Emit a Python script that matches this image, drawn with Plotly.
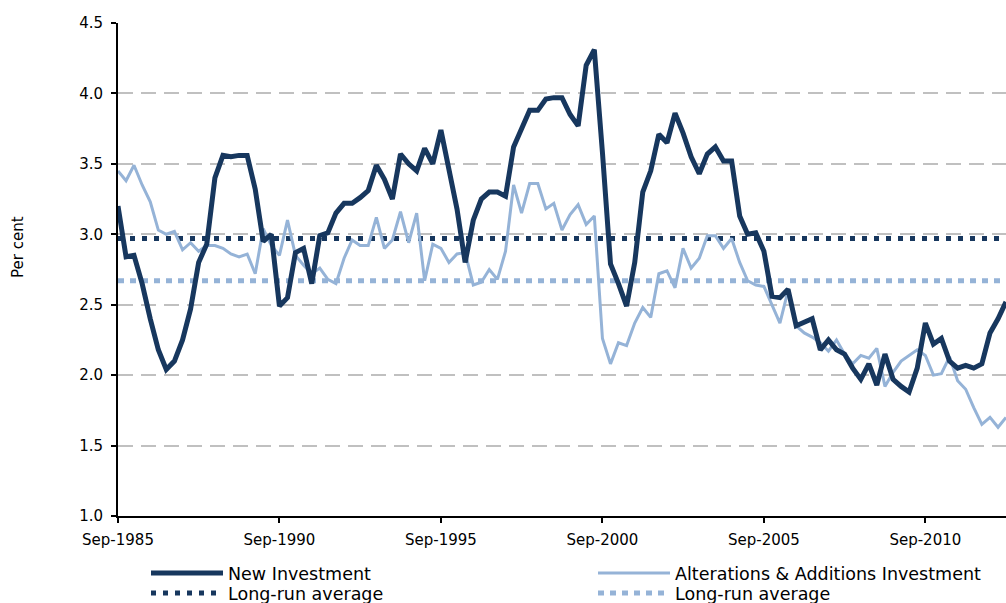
import pandas as pd
import plotly.graph_objects as go

# Quarterly, Sep-1985 .. Mar-2013
quarters = pd.date_range(start="1985-09-01", periods=111, freq="3MS")

new_investment = [
    3.20, 2.84, 2.85, 2.65, 2.40, 2.18, 2.04, 2.10, 2.25, 2.47,
    2.80, 2.93, 3.40, 3.56, 3.55, 3.56, 3.56, 3.32, 2.95, 3.00,
    2.49, 2.55, 2.87, 2.90, 2.65, 2.99, 3.01, 3.15, 3.22, 3.22,
    3.26, 3.31, 3.49, 3.39, 3.25, 3.57, 3.50, 3.45, 3.61, 3.50,
    3.74, 3.47, 3.18, 2.80, 3.10, 3.25, 3.30, 3.30, 3.27, 3.62,
    3.75, 3.88, 3.88, 3.96, 3.97, 3.97, 3.85, 3.77, 4.20, 4.31,
    3.58, 2.79, 2.65, 2.49, 2.80, 3.30, 3.45, 3.71, 3.65, 3.86,
    3.72, 3.55, 3.43, 3.57, 3.62, 3.52, 3.52, 3.13, 3.00, 3.01,
    2.88, 2.56, 2.55, 2.61, 2.35, 2.38, 2.40, 2.18, 2.25, 2.18,
    2.15, 2.05, 1.97, 2.08, 1.93, 2.15, 1.97, 1.92, 1.88, 2.05,
    2.37, 2.22, 2.26, 2.10, 2.05, 2.07, 2.05, 2.08, 2.30, 2.40,
    2.52,
]

alterations_additions = [
    3.45, 3.38, 3.49, 3.35, 3.23, 3.03, 3.00, 3.02, 2.89, 2.94,
    2.88, 2.92, 2.92, 2.90, 2.86, 2.84, 2.86, 2.72, 3.04, 2.92,
    2.85, 3.10, 2.85, 2.78, 2.72, 2.76, 2.68, 2.65, 2.83, 2.96,
    2.92, 2.92, 3.12, 2.90, 2.96, 3.16, 2.94, 3.15, 2.67, 2.93,
    2.90, 2.80, 2.86, 2.87, 2.64, 2.66, 2.75, 2.68, 2.88, 3.35,
    3.15, 3.36, 3.36, 3.18, 3.22, 3.03, 3.14, 3.21, 3.07, 3.13,
    2.26, 2.08, 2.23, 2.21, 2.37, 2.48, 2.41, 2.72, 2.74, 2.62,
    2.90, 2.76, 2.83, 2.99, 2.99, 2.90, 2.97, 2.80, 2.67, 2.64,
    2.63, 2.50, 2.37, 2.60, 2.35, 2.30, 2.27, 2.23, 2.17, 2.25,
    2.15, 2.08, 2.14, 2.12, 2.19, 1.92, 2.02, 2.10, 2.14, 2.18,
    2.14, 2.00, 2.01, 2.13, 1.96, 1.90, 1.77, 1.65, 1.70, 1.63,
    1.70,
]

new_avg = 2.97
alt_avg = 2.67

tick_dates = ["1985-09-01", "1990-09-01", "1995-09-01", "2000-09-01", "2005-09-01", "2010-09-01"]
tick_labels = ["Sep-1985", "Sep-1990", "Sep-1995", "Sep-2000", "Sep-2005", "Sep-2010"]
y_ticks = [1.0, 1.5, 2.0, 2.5, 3.0, 3.5, 4.0, 4.5]

DARK = "#17375e"
LIGHT = "#95b3d7"
FONT = "DejaVu Sans"
FS = 15
LFS = 17.5

fig = go.Figure()

fig.add_trace(go.Scatter(
    x=quarters, y=[new_avg] * len(quarters), mode="lines",
    name="Long-run average", legend="legend3",
    line=dict(color=DARK, width=5, dash="5px,7px"),
))
fig.add_trace(go.Scatter(
    x=quarters, y=[alt_avg] * len(quarters), mode="lines",
    name="Long-run average", legend="legend4",
    line=dict(color=LIGHT, width=5, dash="6px,6px"),
))
fig.add_trace(go.Scatter(
    x=quarters, y=alterations_additions, mode="lines",
    name="Alterations & Additions Investment", legend="legend2",
    line=dict(color=LIGHT, width=3),
))
fig.add_trace(go.Scatter(
    x=quarters, y=new_investment, mode="lines",
    name="New Investment", legend="legend",
    line=dict(color=DARK, width=5),
))

W, H = 1006, 603
L, R, T, B = 118, 0, 23, 87
PW, PH = W - L - R, H - T - B


def px_x(x):
    return (x - L) / PW


def px_y(y):
    return (H - B - y) / PH


def leg(x, y):
    return dict(
        orientation="v", x=x, y=y, xanchor="left", yanchor="middle",
        font=dict(family=FONT, size=LFS, color="black"),
        bgcolor="rgba(0,0,0,0)", borderwidth=0, itemwidth=72,
    )


fig.update_layout(
    width=W, height=H,
    margin=dict(l=L, r=R, t=T, b=B, autoexpand=False),
    paper_bgcolor="white", plot_bgcolor="white",
    font=dict(family=FONT, size=FS, color="black"),
    showlegend=True,
    legend=leg(px_x(146), px_y(573)),
    legend2=leg(px_x(593), px_y(573)),
    legend3=leg(px_x(146), px_y(593)),
    legend4=leg(px_x(593), px_y(593)),
    xaxis=dict(
        range=["1985-09-01", "2013-03-01"],
        tickmode="array", tickvals=tick_dates, ticktext=tick_labels,
        showgrid=False, zeroline=False,
        showline=True, linecolor="black", linewidth=2,
        ticks="outside", ticklen=5, tickcolor="black", tickwidth=2,
        ticklabelstandoff=4,
        tickfont=dict(family=FONT, size=FS),
    ),
    yaxis=dict(
        range=[1.0, 4.5],
        tickmode="array", tickvals=y_ticks,
        ticktext=[f"{v:.1f}" for v in y_ticks],
        showgrid=True, gridcolor="#c0c0c0", gridwidth=2, griddash="15px,8px",
        zeroline=False,
        showline=True, linecolor="black", linewidth=2,
        ticks="outside", ticklen=5, tickcolor="black", tickwidth=2,
        ticklabelstandoff=5,
        tickfont=dict(family=FONT, size=FS),
    ),
    annotations=[dict(
        text="Per cent", textangle=-90, showarrow=False,
        xref="paper", yref="paper", x=px_x(18), y=px_y(247),
        xanchor="center", yanchor="middle",
        font=dict(family=FONT, size=FS, color="black"),
    )],
)

fig.write_html(
    "out.html",
    config={"displayModeBar": False},
    post_script="document.body.style.margin='0';document.body.style.overflow='hidden';",
)
